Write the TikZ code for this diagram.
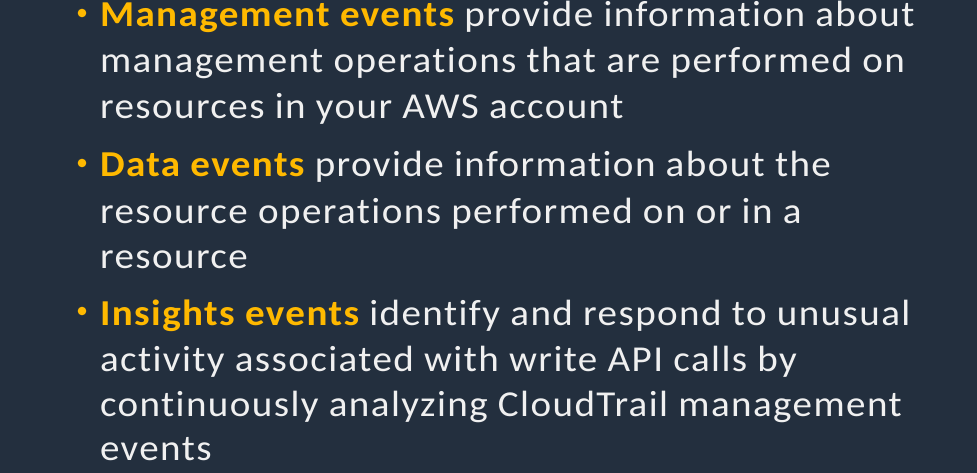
\documentclass[tikz,border=0pt]{standalone}
\usepackage{fontspec}
\setmainfont{Carlito}[Ligatures=NoCommon, FakeStretch=1.07, LetterSpace=3.9]
\definecolor{bg}{HTML}{232F3E}
\definecolor{hl}{HTML}{FFB900}
\definecolor{fg}{HTML}{F0F0F0}
\tikzset{
  line/.style={anchor=base west, inner sep=0pt, outer sep=0pt, text=fg,
    font=\fontsize{36.5pt}{45pt}\selectfont},
  dot/.style={fill=hl, draw=none},
}
\newcommand{\hlt}[1]{\textcolor{hl}{\bfseries #1}}
\begin{document}
\begin{tikzpicture}[x=1pt,y=-1pt]
\fill[bg] (0,0) rectangle (977,473);
\useasboundingbox (0,0) rectangle (977,473);
% bullet 1
\fill[dot] (82,13) circle (4.3);
\node[line] (a1) at (100,27) {\hlt{Management events} provide information about};
\node[line] (a2) at (100,73) {management operations that are performed on};
\node[line] (a3) at (100,119) {resources in your AWS account};
% bullet 2
\fill[dot] (82,163) circle (4.3);
\node[line] (b1) at (100,177) {\hlt{Data events} provide information about the};
\node[line] (b2) at (100,223) {resource operations performed on or in a};
\node[line] (b3) at (100,268) {resource};
% bullet 3
\fill[dot] (82,311) circle (4.3);
\node[line] (c1) at (100,325) {\hlt{Insights events} identify and respond to unusual};
\node[line] (c2) at (100,371) {activity associated with write API calls by};
\node[line] (c3) at (100,416) {continuously analyzing CloudTrail management};
\node[line] (c4) at (100,460) {events};
\end{tikzpicture}
\end{document}
